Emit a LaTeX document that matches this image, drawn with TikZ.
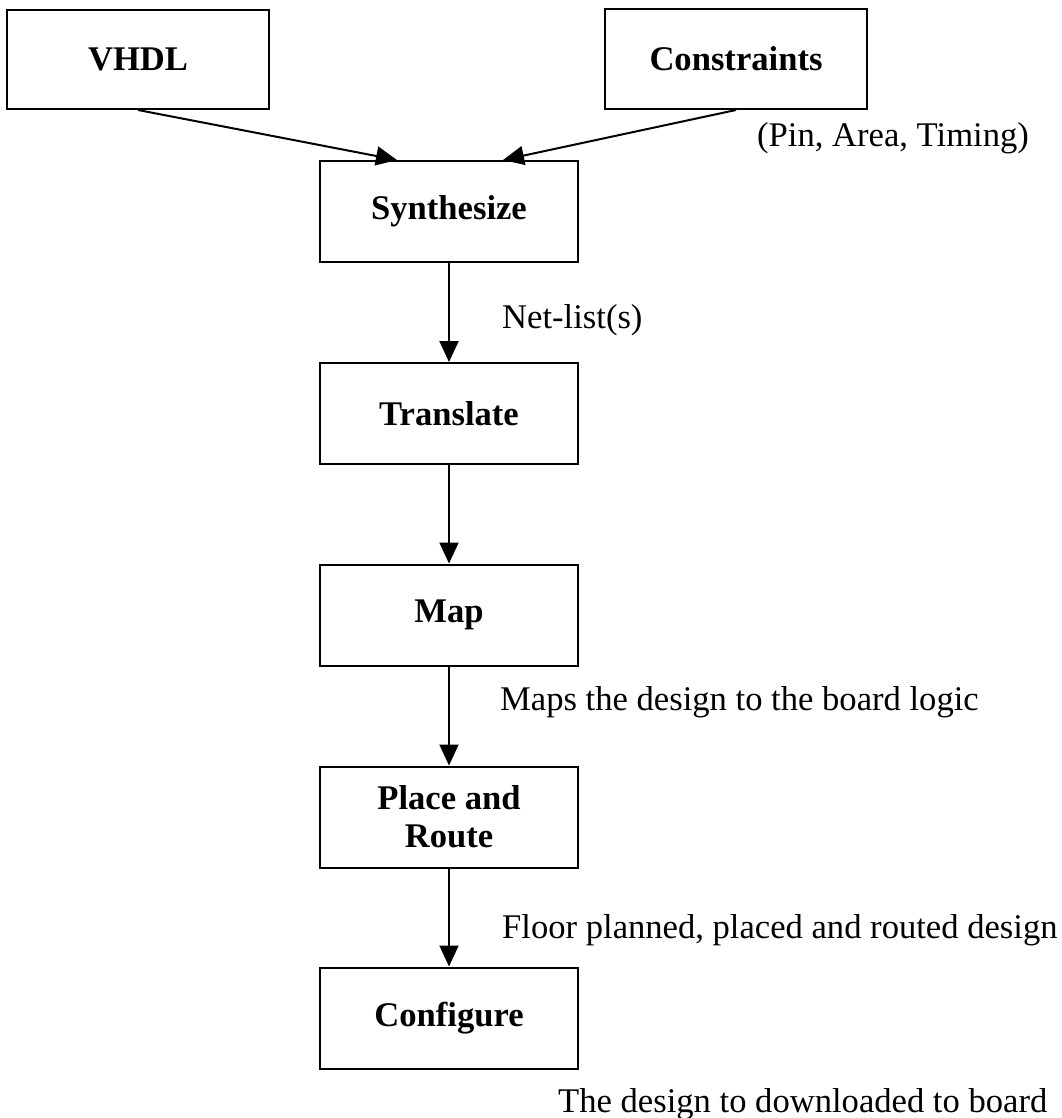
\documentclass[tikz,border=0pt]{standalone}
\usepackage{fontspec}
\setmainfont{Liberation Serif}
\usetikzlibrary{arrows.meta}
\begin{document}
\begin{tikzpicture}[x=1pt, y=-1pt,
  stage/.style={draw, line width=2pt, minimum width=258pt, minimum height=101pt,
    inner sep=0pt, align=center, font=\fontsize{34.6}{38}\selectfont\bfseries},
  note/.style={anchor=west, inner sep=0pt, font=\fontsize{34.6}{38}\selectfont},
  flow/.style={line width=2pt, -{Triangle[length=21pt, width=19pt]}}]

  % page frame
  \useasboundingbox (0,0) rectangle (1061,1118);

  % design inputs
  \node[stage, minimum width=262pt, minimum height=99pt] (vhdl) at (138,59.5) {VHDL};
  \node[stage, minimum width=262pt, minimum height=100pt] (cons) at (736,59) {Constraints};

  % tool flow stages
  \node[stage] (syn) at (449,211.5) {Synthesize};
  \node[stage] (tra) at (449,413.5) {Translate};
  \node[stage] (map) at (449,615) {Map};
  \node[stage] (par) at (449,817) {Place and\\Route};
  \node[stage] (cfg) at (449,1018) {Configure};

  % connectors
  \draw[flow] (vhdl.south) -- ([xshift=-52pt]syn.north);
  \draw[flow] (cons.south) -- ([xshift=54pt]syn.north);
  \draw[flow] (syn.south) -- (tra.north);
  \draw[flow] (tra.south) -- (map.north);
  \draw[flow] (map.south) -- (par.north);
  \draw[flow] (par.south) -- (cfg.north);

  % annotations
  \node[note] (pat) at (757,138) {(Pin, Area, Timing)};
  \node[note] (nl)  at (502,320) {Net-list(s)};
  \node[note] (mp)  at (500,702) {Maps the design to the board logic};
  \node[note] (fp)  at (502,930) {Floor planned, placed and routed design};
  \node[note] (dl)  at (558,1104) {The design to downloaded to board};
\end{tikzpicture}
\end{document}
